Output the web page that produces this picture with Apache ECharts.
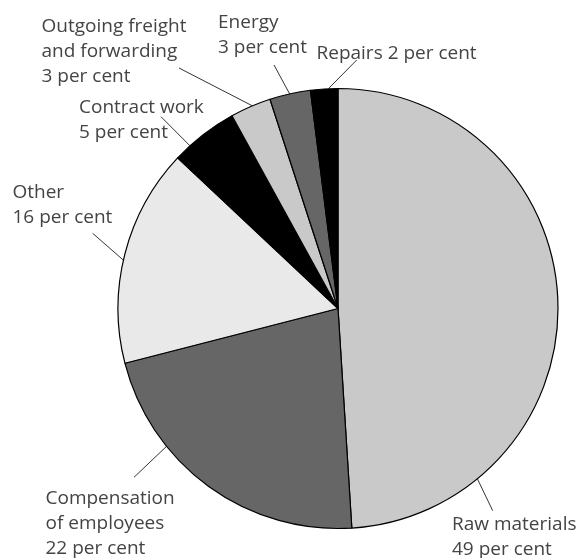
<!DOCTYPE html>
<html>
<head>
<meta charset="utf-8">
<style>
  html, body { margin: 0; padding: 0; background: #fff; }
  #chart { width: 580px; height: 558px; }
</style>
<script src="https://cdn.jsdelivr.net/npm/echarts@6/dist/echarts.min.js"></script>
</head>
<body>
<div id="chart"></div>
<script>
// shares of costs, clockwise from 12 o'clock
const categories = ["Raw materials", "Compensation of employees", "Other", "Contract work", "Outgoing freight and forwarding", "Energy", "Repairs"];
const shares = [49, 22, 16, 5, 3, 3, 2];
// how each name breaks onto lines in its label
const labelNames = ["Raw materials", "Compensation\nof employees", "Other", "Contract work", "Outgoing freight\nand forwarding", "Energy", "Repairs"];

const sliceColors = ["#c9c9c9", "#666666", "#e9e9e9", "#000000", "#c9c9c9", "#666666", "#000000"];
const pieCenter = [338, 308.5];
const pieRadius = 220;

// label top-left, foot of the leader on the rim (deg clockwise from top), outer end of the leader
const labelPlacement = [
  { x: 452, y: 512, foot: 140.7, end: [492.7, 510.7], sep: "\n" },
  { x: 45.5, y: 486.5, foot: 231.2, end: [134, 477.3], sep: "\n" },
  { x: 12.5, y: 180, foot: 282.7, end: [92.7, 233.3], sep: "\n" },
  { x: 79, y: 95.5, foot: 317.7, end: [161, 116.7], sep: "\n" },
  { x: 41.5, y: 14.5, foot: 337.1, end: [179, 68], sep: "\n" },
  { x: 218, y: 10, foot: 347.3, end: [274, 65], sep: "\n" },
  { x: 316.5, y: 41.5, foot: 357.5, end: [356.7, 60], sep: " " },
];

const chart = echarts.init(document.getElementById("chart"));

const option = {
  animation: false,
  series: [
    {
      type: "pie",
      center: pieCenter,
      radius: pieRadius,
      startAngle: 90,
      clockwise: true,
      avoidLabelOverlap: false,
      silent: true,
      itemStyle: {
        borderColor: "#000",
        borderWidth: 1.2,
      },
      label: {
        show: true,
        position: "outside",
        fontFamily: "Open Sans",
        fontSize: 19,
        lineHeight: 25,
        color: "#444",
        formatter: (p) => labelNames[p.dataIndex] + labelPlacement[p.dataIndex].sep + p.value + " per cent",
      },
      labelLine: {
        show: true,
        lineStyle: { color: "#333", width: 1 },
      },
      labelLayout: (params) => {
        const p = labelPlacement[params.dataIndex];
        const a = p.foot * Math.PI / 180;
        const foot = [pieCenter[0] + pieRadius * Math.sin(a), pieCenter[1] - pieRadius * Math.cos(a)];
        return {
          x: p.x,
          y: p.y,
          align: "left",
          verticalAlign: "top",
          labelLinePoints: [foot, p.end, p.end],
        };
      },
      data: categories.map((name, i) => ({
        name: name,
        value: shares[i],
        itemStyle: { color: sliceColors[i] },
      })),
    },
  ],
};

chart.setOption(option);
</script>
</body>
</html>
